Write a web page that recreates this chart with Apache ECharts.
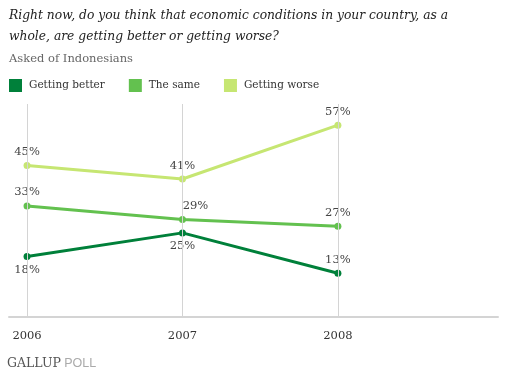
<!DOCTYPE html>
<html><head><meta charset="utf-8">
<script src="https://cdn.jsdelivr.net/npm/echarts@6/dist/echarts.min.js"></script>
<style>html,body{margin:0;padding:0;background:#fff}#c{width:505px;height:379px}</style>
</head><body><div id="c"></div>
<script>
var years = [2006, 2007, 2008];
var yearLabels = ['2006', '2007', '2008'];
var better = [18, 25, 13];
var same = [33, 29, 27];
var worse = [45, 41, 57];
var names = ['Getting better', 'The same', 'Getting worse'];
var colors = ['#00803a', '#63c14f', '#c6e672'];
var serif = '"DejaVu Serif", Georgia, serif';

// label placements per point: [position, offsetX, offsetY]
var betterPos = [['bottom', 0, 0], ['bottom', 0, 0], ['top', 0, 0]];
var samePos = [['top', 0, 0], ['top', 13, 0], ['top', 0, 0]];
var worsePos = [['top', 0, 0], ['top', 0, 0], ['top', 0, 0]];

function mk(vals, pos) {
  return vals.map(function (v, i) {
    return {
      value: [years[i], v],
      label: { position: pos[i][0], offset: [pos[i][1], pos[i][2]] }
    };
  });
}
function series(name, vals, pos, color, z) {
  return {
    name: name, type: 'line', data: mk(vals, pos), z: z,
    symbol: 'circle', symbolSize: 7,
    lineStyle: { color: color, width: 3 },
    itemStyle: { color: color },
    label: { show: true, formatter: function (p) { return p.value[1] + '%'; },
      fontFamily: serif, fontSize: 11.5, color: '#444', distance: 4 },
    emphasis: { disabled: true }
  };
}
var chart = echarts.init(document.getElementById('c'), null, { renderer: 'canvas' });
var s = [
  series(names[0], better, betterPos, colors[0], 4),
  series(names[1], same, samePos, colors[1], 3),
  series(names[2], worse, worsePos, colors[2], 2)
];
s.push({
  type: 'line', data: [], silent: true,
  markLine: { symbol: 'none', silent: true, label: { show: false },
    lineStyle: { color: '#d4d4d4', width: 1, type: 'solid' },
    data: years.map(function (y) { return { xAxis: y }; }) }
});
chart.setOption({
  animation: false,
  title: [
    { text: 'Right now, do you think that economic conditions in your country, as a\nwhole, are getting better or getting worse?',
      left: 9, top: 0, padding: [5, 0, 0, 0],
      textStyle: { fontFamily: serif, fontStyle: 'italic', fontWeight: 'normal', fontSize: 12.3, color: '#222', lineHeight: 21 } },
    { text: 'Asked of Indonesians', left: 9, top: 53, padding: 0,
      textStyle: { fontFamily: serif, fontWeight: 'normal', fontSize: 11.5, color: '#666' } }
  ],
  legend: {
    left: 9, top: 79, padding: 0, icon: 'rect', itemWidth: 13, itemHeight: 13, itemGap: 24,
    textStyle: { fontFamily: serif, fontSize: 10.5, color: '#333', padding: [0, 0, 0, 2] },
    data: names, selectedMode: false
  },
  grid: { left: 9, right: 7, top: 104, bottom: 62 },
  xAxis: {
    type: 'value', min: 2005.884, max: 2009.03,
    splitLine: { show: false }, axisTick: { show: false },
    axisLine: { show: true, lineStyle: { color: '#d4d4d4', width: 2 } },
    axisLabel: { customValues: years, formatter: function (v) { return yearLabels[years.indexOf(v)] || ''; },
      fontFamily: serif, fontSize: 11.5, color: '#333', margin: 13 }
  },
  yAxis: { type: 'value', min: 0, max: 63.3, show: false, splitLine: { show: false } },
  series: s,
  graphic: [{
    type: 'text', left: 7, top: 357,
    style: { rich: { a: { fontFamily: serif, fontSize: 12.5, fill: '#555' }, b: { fontFamily: '"Liberation Sans", Arial, sans-serif', fontSize: 12.5, fill: '#aaa' } },
      text: '{a|GALLUP} {b|POLL}' }
  }]
});
</script></body></html>
